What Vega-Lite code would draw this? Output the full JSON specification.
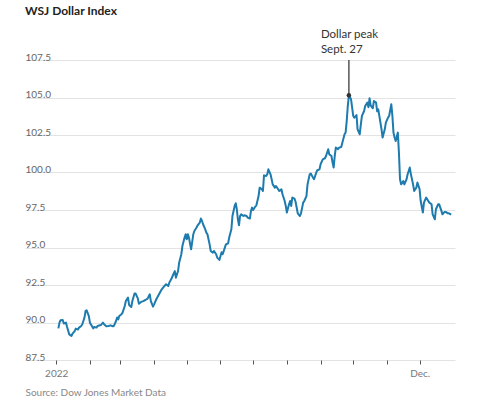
{
  "$schema": "https://vega.github.io/schema/vega-lite/v6.json",
  "width": 430,
  "height": 330,
  "autosize": {"type": "none"},
  "padding": {"left": 25, "top": 30, "right": 45, "bottom": 47},
  "background": "white",
  "title": {"text": "WSJ Dollar Index", "anchor": "start", "frame": "group", "font": "Lato", "fontSize": 12, "fontWeight": "bold", "color": "#222222", "offset": 11},
  "config": {"view": {"stroke": null}, "axis": {"labelOverlap": false, "labelFlush": false, "labelBound": false}},
  "datasets": {
    "index": [
      {"date":"2022-01-03","value":89.61},{"date":"2022-01-04","value":89.99},{"date":"2022-01-05","value":90.15},{"date":"2022-01-07","value":90.17},{"date":"2022-01-08","value":89.93},{"date":"2022-01-10","value":89.99},{"date":"2022-01-11","value":89.70},{"date":"2022-01-13","value":89.21},{"date":"2022-01-15","value":89.10},{"date":"2022-01-16","value":89.26},{"date":"2022-01-18","value":89.43},{"date":"2022-01-19","value":89.59},{"date":"2022-01-21","value":89.53},{"date":"2022-01-22","value":89.66},{"date":"2022-01-24","value":89.77},{"date":"2022-01-25","value":89.88},{"date":"2022-01-27","value":90.33},{"date":"2022-01-28","value":90.77},{"date":"2022-01-29","value":90.81},{"date":"2022-01-31","value":90.43},
      {"date":"2022-02-01","value":89.99},{"date":"2022-02-04","value":89.61},{"date":"2022-02-05","value":89.70},{"date":"2022-02-07","value":89.66},{"date":"2022-02-08","value":89.77},{"date":"2022-02-11","value":89.83},{"date":"2022-02-13","value":89.99},{"date":"2022-02-14","value":89.88},{"date":"2022-02-16","value":89.75},{"date":"2022-02-18","value":89.77},{"date":"2022-02-20","value":89.81},{"date":"2022-02-22","value":89.75},{"date":"2022-02-23","value":89.77},{"date":"2022-02-25","value":90.10},{"date":"2022-02-26","value":90.33},{"date":"2022-02-27","value":90.21},{"date":"2022-02-28","value":90.43},
      {"date":"2022-03-02","value":90.55},{"date":"2022-03-03","value":90.66},{"date":"2022-03-05","value":91.10},{"date":"2022-03-06","value":91.43},{"date":"2022-03-08","value":91.66},{"date":"2022-03-09","value":91.17},{"date":"2022-03-11","value":91.03},{"date":"2022-03-12","value":91.43},{"date":"2022-03-14","value":91.93},{"date":"2022-03-15","value":91.93},{"date":"2022-03-17","value":91.61},{"date":"2022-03-18","value":91.25},{"date":"2022-03-20","value":91.37},{"date":"2022-03-22","value":91.43},{"date":"2022-03-24","value":91.50},{"date":"2022-03-26","value":91.59},{"date":"2022-03-28","value":91.88},{"date":"2022-03-29","value":91.43},{"date":"2022-03-31","value":91.06},
      {"date":"2022-04-01","value":91.21},{"date":"2022-04-03","value":91.55},{"date":"2022-04-06","value":91.95},{"date":"2022-04-08","value":92.21},{"date":"2022-04-10","value":92.39},{"date":"2022-04-12","value":92.55},{"date":"2022-04-14","value":92.43},{"date":"2022-04-15","value":92.66},{"date":"2022-04-17","value":92.93},{"date":"2022-04-18","value":93.10},{"date":"2022-04-20","value":93.43},{"date":"2022-04-21","value":92.99},{"date":"2022-04-23","value":93.43},{"date":"2022-04-24","value":93.99},{"date":"2022-04-26","value":94.55},{"date":"2022-04-27","value":95.10},{"date":"2022-04-29","value":95.66},{"date":"2022-04-30","value":95.88},
      {"date":"2022-05-01","value":95.55},{"date":"2022-05-02","value":95.88},{"date":"2022-05-03","value":95.66},{"date":"2022-05-05","value":94.88},{"date":"2022-05-07","value":95.88},{"date":"2022-05-08","value":96.10},{"date":"2022-05-10","value":96.33},{"date":"2022-05-11","value":96.48},{"date":"2022-05-13","value":96.66},{"date":"2022-05-14","value":96.93},{"date":"2022-05-15","value":96.77},{"date":"2022-05-16","value":96.55},{"date":"2022-05-18","value":96.21},{"date":"2022-05-19","value":95.99},{"date":"2022-05-20","value":95.88},{"date":"2022-05-22","value":95.21},{"date":"2022-05-23","value":94.77},{"date":"2022-05-25","value":94.66},{"date":"2022-05-26","value":94.77},{"date":"2022-05-28","value":94.55},{"date":"2022-05-29","value":94.33},{"date":"2022-05-31","value":94.17},
      {"date":"2022-06-02","value":94.68},{"date":"2022-06-03","value":94.55},{"date":"2022-06-05","value":94.99},{"date":"2022-06-06","value":95.21},{"date":"2022-06-08","value":95.28},{"date":"2022-06-09","value":95.66},{"date":"2022-06-11","value":96.21},{"date":"2022-06-12","value":97.10},{"date":"2022-06-14","value":97.77},{"date":"2022-06-15","value":97.95},{"date":"2022-06-16","value":97.55},{"date":"2022-06-17","value":96.88},{"date":"2022-06-18","value":96.48},{"date":"2022-06-19","value":97.10},{"date":"2022-06-20","value":97.21},{"date":"2022-06-22","value":97.10},{"date":"2022-06-23","value":97.15},{"date":"2022-06-25","value":97.10},{"date":"2022-06-26","value":96.99},{"date":"2022-06-28","value":96.93},{"date":"2022-06-29","value":97.43},{"date":"2022-06-30","value":97.66},
      {"date":"2022-07-01","value":97.50},{"date":"2022-07-03","value":97.73},{"date":"2022-07-04","value":97.81},{"date":"2022-07-06","value":98.43},{"date":"2022-07-07","value":98.99},{"date":"2022-07-09","value":98.88},{"date":"2022-07-10","value":98.77},{"date":"2022-07-11","value":99.81},{"date":"2022-07-13","value":99.77},{"date":"2022-07-14","value":99.88},{"date":"2022-07-15","value":100.21},{"date":"2022-07-17","value":99.88},{"date":"2022-07-18","value":99.55},{"date":"2022-07-19","value":99.21},{"date":"2022-07-21","value":98.99},{"date":"2022-07-22","value":99.10},{"date":"2022-07-24","value":98.88},{"date":"2022-07-25","value":98.77},{"date":"2022-07-27","value":98.88},{"date":"2022-07-28","value":98.55},{"date":"2022-07-30","value":98.10},{"date":"2022-07-31","value":97.77},
      {"date":"2022-08-01","value":97.33},{"date":"2022-08-03","value":97.88},{"date":"2022-08-04","value":98.10},{"date":"2022-08-05","value":97.77},{"date":"2022-08-06","value":98.33},{"date":"2022-08-08","value":98.26},{"date":"2022-08-09","value":98.05},{"date":"2022-08-11","value":97.28},{"date":"2022-08-13","value":97.10},{"date":"2022-08-14","value":97.28},{"date":"2022-08-16","value":97.99},{"date":"2022-08-17","value":98.10},{"date":"2022-08-19","value":98.43},{"date":"2022-08-20","value":99.21},{"date":"2022-08-22","value":99.88},{"date":"2022-08-23","value":99.93},{"date":"2022-08-25","value":99.66},{"date":"2022-08-26","value":99.55},{"date":"2022-08-28","value":99.99},{"date":"2022-08-29","value":100.15},{"date":"2022-08-31","value":100.21},
      {"date":"2022-09-01","value":100.55},{"date":"2022-09-03","value":100.88},{"date":"2022-09-05","value":100.95},{"date":"2022-09-06","value":101.10},{"date":"2022-09-08","value":101.55},{"date":"2022-09-09","value":101.21},{"date":"2022-09-11","value":101.10},{"date":"2022-09-12","value":100.66},{"date":"2022-09-13","value":100.33},{"date":"2022-09-14","value":101.10},{"date":"2022-09-15","value":101.66},{"date":"2022-09-17","value":101.55},{"date":"2022-09-18","value":101.66},{"date":"2022-09-20","value":101.70},{"date":"2022-09-21","value":101.99},{"date":"2022-09-23","value":102.55},{"date":"2022-09-24","value":102.66},{"date":"2022-09-25","value":103.43},{"date":"2022-09-26","value":104.43},{"date":"2022-09-27","value":105.15},{"date":"2022-09-29","value":104.88},{"date":"2022-09-30","value":104.33},
      {"date":"2022-10-01","value":103.77},{"date":"2022-10-02","value":103.66},{"date":"2022-10-04","value":103.83},{"date":"2022-10-05","value":102.88},{"date":"2022-10-07","value":102.55},{"date":"2022-10-08","value":103.21},{"date":"2022-10-09","value":103.77},{"date":"2022-10-11","value":104.10},{"date":"2022-10-12","value":104.43},{"date":"2022-10-14","value":104.66},{"date":"2022-10-15","value":104.35},{"date":"2022-10-16","value":104.95},{"date":"2022-10-17","value":104.48},{"date":"2022-10-19","value":104.28},{"date":"2022-10-20","value":104.77},{"date":"2022-10-22","value":104.66},{"date":"2022-10-23","value":104.08},{"date":"2022-10-24","value":104.21},{"date":"2022-10-25","value":103.77},{"date":"2022-10-27","value":102.88},{"date":"2022-10-28","value":102.33},{"date":"2022-10-30","value":102.88},{"date":"2022-10-31","value":103.33},
      {"date":"2022-11-02","value":103.66},{"date":"2022-11-03","value":103.77},{"date":"2022-11-05","value":104.55},{"date":"2022-11-06","value":103.77},{"date":"2022-11-07","value":102.66},{"date":"2022-11-08","value":102.33},{"date":"2022-11-09","value":102.10},{"date":"2022-11-11","value":102.66},{"date":"2022-11-12","value":101.33},{"date":"2022-11-13","value":99.55},{"date":"2022-11-14","value":99.21},{"date":"2022-11-16","value":99.43},{"date":"2022-11-17","value":99.21},{"date":"2022-11-19","value":99.55},{"date":"2022-11-20","value":99.88},{"date":"2022-11-22","value":100.33},{"date":"2022-11-23","value":99.88},{"date":"2022-11-25","value":99.21},{"date":"2022-11-26","value":98.77},{"date":"2022-11-28","value":98.99},{"date":"2022-11-29","value":99.33},
      {"date":"2022-12-01","value":98.88},{"date":"2022-12-02","value":98.10},{"date":"2022-12-04","value":97.33},{"date":"2022-12-05","value":97.99},{"date":"2022-12-07","value":98.33},{"date":"2022-12-09","value":98.10},{"date":"2022-12-10","value":97.99},{"date":"2022-12-12","value":97.88},{"date":"2022-12-13","value":97.21},{"date":"2022-12-15","value":96.88},{"date":"2022-12-16","value":97.55},{"date":"2022-12-18","value":97.88},{"date":"2022-12-19","value":97.88},{"date":"2022-12-21","value":97.46},{"date":"2022-12-22","value":97.21},{"date":"2022-12-24","value":97.37},{"date":"2022-12-25","value":97.37},{"date":"2022-12-27","value":97.28},{"date":"2022-12-28","value":97.28},{"date":"2022-12-30","value":97.19}
    ],
    "peak": [{"date": "2022-09-27", "value": 105.15, "label": ["Dollar peak", "Sept. 27"]}]
  },
  "encoding": {
    "x": {
      "field": "date", "type": "temporal",
      "scale": {"type": "utc", "domain": [1638517200000, 1672664220000]},
      "axis": {
        "values": [1640995200000, 1643673600000, 1646092800000, 1648771200000, 1651363200000, 1654041600000, 1656633600000, 1659312000000, 1661990400000, 1664582400000, 1667260800000, 1669852800000],
        "labelExpr": "datum.value < 1642000000000 ? '2022' : (datum.value > 1669000000000 ? 'Dec.' : '')",
        "grid": false, "domain": false,
        "ticks": true, "tickColor": "#555555", "tickSize": 4, "tickWidth": 1,
        "labelColor": "#777777", "labelFontSize": 10, "labelFont": "Lato", "labelPadding": 4, "labelOverlap": false, "labelFlush": false, "labelBound": false,
        "title": "Source: Dow Jones Market Data", "titleAnchor": "start", "titleAlign": "left", "titleFontWeight": "normal", "titleFontSize": 10, "titleFont": "Lato", "titleColor": "#888888", "titlePadding": 9
      }
    },
    "y": {
      "field": "value", "type": "quantitative",
      "scale": {"domain": [87.5, 109.5], "nice": false, "zero": false},
      "axis": {
        "values": [87.5, 90, 92.5, 95, 97.5, 100, 102.5, 105, 107.5],
        "format": ".1f",
        "grid": true, "gridColor": "#e3e3e3", "gridWidth": 1,
        "domain": false, "ticks": false, "tickSize": 0,
        "labelAlign": "left", "labelBaseline": "alphabetic", "labelPadding": 0, "labelDy": -2,
        "labelColor": "#666666", "labelFontSize": 10, "labelFont": "Lato",
        "title": null
      }
    }
  },
  "layer": [
    {
      "data": {"name": "index"},
      "mark": {"type": "line", "color": "#1d7bae", "strokeWidth": 2, "strokeJoin": "round"}
    },
    {
      "data": {"name": "peak"},
      "mark": {"type": "rule", "color": "#555555", "strokeWidth": 1.5},
      "encoding": {
        "y2": {"datum": 107.5}
      }
    },
    {
      "data": {"name": "peak"},
      "mark": {"type": "point", "filled": true, "color": "#333333", "size": 20, "opacity": 1}
    },
    {
      "data": {"name": "peak"},
      "mark": {"type": "text", "align": "left", "baseline": "top", "dx": -28, "fontSize": 11.5, "font": "Lato", "color": "#333333", "lineHeight": 15},
      "encoding": {
        "y": {"datum": 109.57},
        "text": {"field": "label"}
      }
    }
  ]
}
